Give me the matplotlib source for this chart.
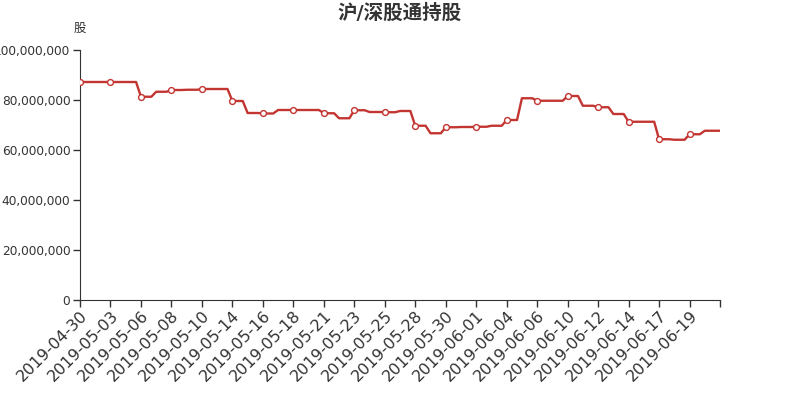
import numpy as np
import matplotlib
matplotlib.use("Agg")
import matplotlib.pyplot as plt
from matplotlib.ticker import FuncFormatter

plt.rcParams['font.family'] = ['DejaVu Sans', 'Noto Sans CJK SC']

# trading dates (labels shown every second one)
dates = ['2019-04-30', '2019-05-02', '2019-05-03', '2019-05-04', '2019-05-06',
         '2019-05-07', '2019-05-08', '2019-05-09', '2019-05-10', '2019-05-13',
         '2019-05-14', '2019-05-15', '2019-05-16', '2019-05-17', '2019-05-18',
         '2019-05-20', '2019-05-21', '2019-05-22', '2019-05-23', '2019-05-24',
         '2019-05-25', '2019-05-27', '2019-05-28', '2019-05-29', '2019-05-30',
         '2019-05-31', '2019-06-01', '2019-06-03', '2019-06-04', '2019-06-05',
         '2019-06-06', '2019-06-08', '2019-06-10', '2019-06-11', '2019-06-12',
         '2019-06-13', '2019-06-14', '2019-06-15', '2019-06-17', '2019-06-18',
         '2019-06-19', '2019-06-20', '2019-06-21']

# holdings in millions of shares
holdings_m = [87.2, 87.2, 87.2, 87.2, 81.3, 83.3, 84.0, 84.1, 84.4, 84.4,
              79.6, 74.8, 74.6, 76.0, 76.0, 76.0, 74.7, 72.7, 75.9, 75.2,
              75.1, 75.6, 69.7, 66.7, 69.1, 69.2, 69.3, 69.7, 72.0, 80.7,
              79.7, 79.7, 81.6, 77.7, 77.1, 74.4, 71.3, 71.3, 64.3, 64.1,
              66.3, 67.7, 67.7]

values = np.array(holdings_m) * 1e6
n = len(values)
x = np.arange(n)
color = '#c23531'

fig = plt.figure(figsize=(8, 4), dpi=100)
ax = fig.add_axes([0.1, 0.25, 0.8, 0.625])

# line holds each value most of the interval, then moves to the next
frac = 0.68
lx, ly = [], []
for i in range(n - 1):
    lx += [x[i], x[i] + frac]
    ly += [values[i], values[i]]
lx.append(x[-1])
ly.append(values[-1])
ax.plot(lx, ly, color=color, lw=1.7, solid_joinstyle='round', zorder=2)
ax.plot(x[:-1:2], values[:-1:2], 'o', ms=4.2, mfc='white', mec=color, mew=1, zorder=3)

ax.set_xlim(0, n - 1)
ax.set_ylim(0, 100e6)
ax.set_yticks(np.arange(0, 100e6 + 1, 20e6))
ax.yaxis.set_major_formatter(FuncFormatter(lambda v, p: f'{v:,.0f}'))

ticks = list(range(0, n, 2))
ax.set_xticks(ticks)
ax.set_xticklabels([dates[i] if i < n - 1 else '' for i in ticks],
                   rotation=45, ha='right', rotation_mode='anchor', fontsize=11.5)

for s in ['top', 'right']:
    ax.spines[s].set_visible(False)
for s in ['left', 'bottom']:
    ax.spines[s].set_color('#333333')
ax.tick_params(colors='#333333', length=5, width=1)
ax.tick_params(axis='y', labelsize=8.7, pad=2)
ax.tick_params(axis='x', pad=1)

ax.text(0, 1.085, '股', transform=ax.transAxes, ha='center', va='center',
        fontsize=9, color='#333333')
fig.text(0.5, 0.968, '沪/深股通持股', ha='center', va='center',
         fontsize=14, fontweight='bold', color='#333333')

fig.savefig('out.png', dpi=100)
